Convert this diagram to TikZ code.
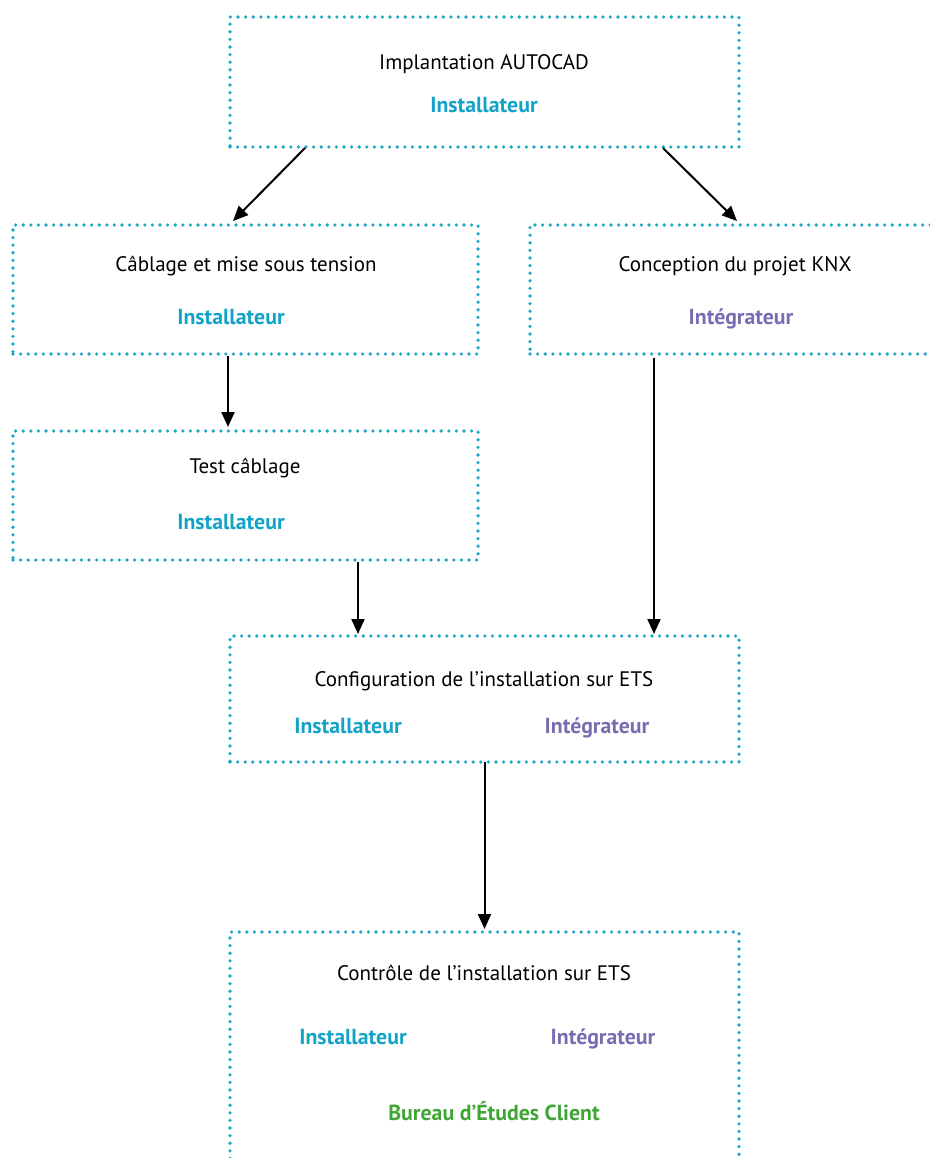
\documentclass[tikz,border=0pt]{standalone}
\usepackage{fontspec}
\setmainfont{PT Sans}
\usetikzlibrary{arrows.meta,calc}
\definecolor{dotc}{HTML}{1AA6C8}
\definecolor{inst}{HTML}{12A3C6}
\definecolor{integ}{HTML}{7B6BB0}
\definecolor{bec}{HTML}{3FA535}
\tikzset{
  stepbox/.style={draw=dotc, line width=3.6pt, line cap=round, dash pattern=on 0pt off 7.6pt, minimum width=#1, inner sep=0pt, outer sep=0pt},
  title/.style={font=\fontsize{21}{24}\selectfont, text=black, inner sep=0pt, anchor=base},
  rinst/.style={font=\fontsize{21.8}{24}\selectfont\bfseries, text=inst, inner sep=0pt, anchor=base},
  rinteg/.style={font=\fontsize{21.8}{24}\selectfont\bfseries, text=integ, inner sep=0pt, anchor=base},
  rbec/.style={font=\fontsize{21.8}{24}\selectfont\bfseries, text=bec, inner sep=0pt, anchor=base},
  arr/.style={draw=black, line width=2pt, -{Triangle[length=15pt,width=13pt]}}
}
\begin{document}
\begin{tikzpicture}[x=1pt,y=-1pt]
\useasboundingbox (0,0) rectangle (930,1158);
\clip (0,0) rectangle (930,1158);
\node[stepbox=509pt, minimum height=130pt] (b1) at (484.5,82) {};
\node[stepbox=465pt, minimum height=129pt] (b2) at (245.5,289.5) {};
\node[stepbox=470pt, minimum height=129pt] (b3) at (765,289.5) {};
\node[stepbox=465pt, minimum height=129pt] (b4) at (245.5,495.5) {};
\node[stepbox=509pt, minimum height=126pt] (b5) at (484.5,699) {};
\node[stepbox=509pt, minimum height=268pt] (b6) at (484.5,1066) {};

\node[title] (t1) at (484,69.5) {Implantation AUTOCAD};
\node[rinst] (r1) at (484,112.5) {Installateur};
\node[title] (t2) at (246,271.5) {Câblage et mise sous tension};
\node[rinst] (r2) at (231,324.5) {Installateur};
\node[title] (t3) at (735,271.5) {Conception du projet KNX};
\node[rinteg] (r3) at (741,324.5) {Intégrateur};
\node[title] (t4) at (245,473.5) {Test câblage};
\node[rinst] (r4) at (231,529.5) {Installateur};
\node[title] (t5) at (484,686.5) {Configuration de l’installation sur ETS};
\node[rinst] (r5a) at (348,733.5) {Installateur};
\node[rinteg] (r5b) at (597,733.5) {Intégrateur};
\node[title] (t6) at (484,980.5) {Contrôle de l’installation sur ETS};
\node[rinst] (r6a) at (353,1044.5) {Installateur};
\node[rinteg] (r6b) at (603,1044.5) {Intégrateur};
\node[rbec] (r6c) at (494,1120.5) {Bureau d’Études Client};

\draw[arr] ([xshift=-179.5pt,yshift=-1pt]b1.south) -- ([xshift=-12.5pt,yshift=4pt]b2.north);
\draw[arr] ([xshift=178.5pt,yshift=-1pt]b1.south) -- ([xshift=-28pt,yshift=4pt]b3.north);
\draw[arr] ([xshift=-17.5pt,yshift=-2pt]b2.south) -- ([xshift=-17.5pt,yshift=4pt]b4.north);
\draw[arr] ([xshift=-111pt,yshift=-4pt]b3.south) -- ([xshift=169.5pt,yshift=2pt]b5.north);
\draw[arr] ([xshift=112.5pt,yshift=-2pt]b4.south) -- ([xshift=-126.5pt,yshift=2pt]b5.north);
\draw[arr] ([yshift=0pt]b5.south) -- ([yshift=3pt]b6.north);
\end{tikzpicture}
\end{document}
